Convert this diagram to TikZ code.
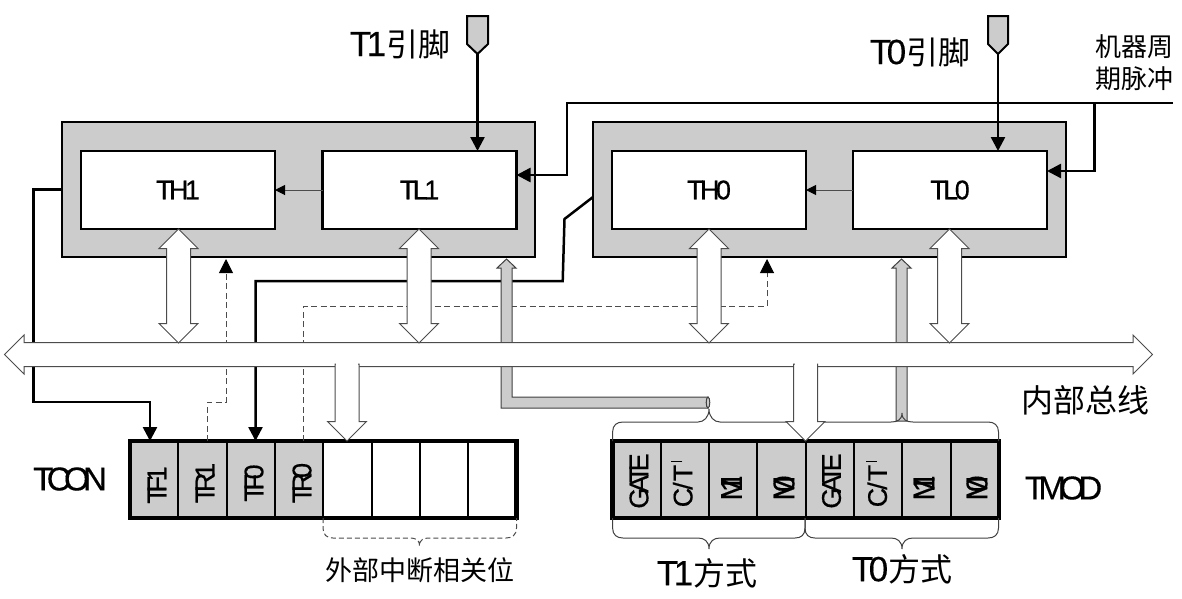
\documentclass[tikz,border=0pt]{standalone}
\usepackage{fontspec}
\setmainfont[FakeBold=0.4]{Liberation Sans}
\newfontfamily\cjk{Noto Sans CJK SC}
\newfontfamily\tight[LetterSpace=-20,FakeBold=0.4]{Liberation Sans}
\newfontfamily\snug[LetterSpace=-13,FakeBold=0.4]{Liberation Sans}
\newfontfamily\tighter[LetterSpace=-55,FakeBold=0.4]{Liberation Sans}
\usetikzlibrary{arrows.meta,shapes.arrows}
\definecolor{mygray}{RGB}{204, 204, 204}
\newcommand{\sz}[1]{\fontsize{#1}{#1}\selectfont}
\newcommand{\barT}{C\kern-2pt/\kern1pt T\kern3pt\rule[10pt]{1pt}{11pt}}
\tikzset{
  every picture/.style={line width=1pt},
  holder/.style={draw,fill=mygray,line width=2.4pt,inner sep=0pt,outer sep=0pt,minimum width=473,minimum height=135},
  counter/.style={draw,fill=white,line width=2.4pt,inner sep=0pt,outer sep=0pt,minimum width=194,minimum height=78,font=\snug\sz{27}},
  bitcell/.style={draw,line width=2pt,inner sep=0pt,outer sep=0pt,minimum width=48.3,minimum height=77},
  regframe/.style={draw,line width=4.5pt},
  bitlabel/.style={rotate=90,inner sep=0pt,font=\tight\sz{27}},
  wire/.style={draw,line width=2.5pt},
  hollow/.style={draw=black!70,fill=white,line width=1pt},
  busway/.style={hollow,double arrow,double arrow head extend=7.5pt,inner xsep=0pt,inner ysep=11.5pt,outer sep=0pt,minimum width=38},
  dropway/.style={hollow,single arrow,single arrow head extend=7.5pt,inner xsep=0pt,inner ysep=11.5pt,outer sep=0pt,minimum width=38,rotate=-90,anchor=tip},
  pipe/.style={draw=black!75,fill=mygray,line width=1pt},
  dashwire/.style={draw=black!70,line width=1pt,dash pattern=on 6pt off 3.5pt},
  curly/.style={draw=black!75,line width=1pt},
  bigtip/.tip={Triangle[length=14pt,width=14pt]},
  smalltip/.tip={Triangle[length=10pt,width=10pt]},
}

\begin{document}
\begin{tikzpicture}[x=1pt,y=1pt,yscale=-1]
\useasboundingbox (0,0) rectangle (1182,598);

%Holders and counters
\node[holder] (box1) at (298.5,189.5) {};
\node[holder] (box0) at (829.5,189.5) {};
\node[counter] (th1) at (178,190) {TH1};
\node[counter] (tl1) at (419.5,190) {TL1};
\node[counter] (th0) at (709,190) {TH0};
\node[counter] (tl0) at (950,190) {TL0};

%Pins
\draw[fill=mygray,line width=2pt] (467,16) -- (488,16) -- (488,44) -- (477.5,54) -- (467,44) -- cycle;
\coordinate (pin1) at (477.5,54);
\draw[fill=mygray,line width=2pt] (988,16) -- (1008,16) -- (1008,44) -- (998,54) -- (988,44) -- cycle;
\coordinate (pin0) at (998,54);
\draw[wire,-{bigtip}] (pin1) -- (pin1 |- tl1.north);
\draw[wire,-{bigtip}] (pin0) -- (pin0 |- tl0.north);

%Machine cycle line
\coordinate (clkend) at (1173,103);
\draw[wire,-{bigtip}] (clkend) -- (567,103) -- (567,175) -- (567,175 -| tl1.east);
\draw[wire,-{bigtip}] (1094.5,103) -- (1094.5,171) -- (1094.5,171 -| tl0.east);

%Carry arrows
\draw[black!70,-{smalltip[black]}] (tl1.west) -- (th1.east);
\draw[black!70,-{smalltip[black]}] (tl0.west) -- (th0.east);

%Registers
\foreach \i in {1,...,4}
  \node[bitcell,fill=mygray] (tcon\i) at ({130+48.3*(\i-0.5)},479.5) {};
\foreach \i in {5,...,8}
  \node[bitcell,fill=white] (tcon\i) at ({130+48.3*(\i-0.5)},479.5) {};
\foreach \i in {1,...,8}
  \node[bitcell,fill=mygray] (tmod\i) at ({612.5+48.3*(\i-0.5)},479.5) {};
\draw[regframe] (tcon1.north west) rectangle (tcon8.south east);
\draw[regframe] (tmod1.north west) rectangle (tmod8.south east);

%Flag wires
\draw[wire,-{bigtip}] (box1.west) -- (33.5,189.5) -- (33.5,402) -- (150,402) -- (150,402 |- tcon1.north);
\draw[wire,-{bigtip}] (box0.west |- 0,197) -- (564.5,219) -- (562.7,281) -- (255.5,281) -- (255.5,281 |- tcon3.north);
\draw[dashwire,-{bigtip[black]}] (207,441) -- (207,402) -- (226,402) -- (226,259);
\draw[dashwire,-{bigtip[black]}] (303.7,441) -- (303.7,306) -- (767,306) -- (767,259);

%Gray pipes
\draw[pipe] (506.5,259) -- (516,268) -- (512,268) -- (512,397) -- (708,397) -- (708,408) -- (501,408) -- (501,268) -- (497,268) -- cycle;
\draw[pipe] (708,402.5) ellipse (1.8 and 5.5);
\draw[pipe] (901.5,259) -- (911,268) -- (907,268) -- (907,421) -- (896,421) -- (896,268) -- (892,268) -- cycle;

%Braces
\draw[curly] (612.6,441) -- (612.6,432) .. controls (612.6,425) and (617,422) .. (623,422) -- (698,422) .. controls (704,422) and (709,417) .. (709,409) .. controls (709,417) and (714,422) .. (720,422) -- (795,422) .. controls (801,422) and (805,425) .. (805,432) -- (805,441);
\draw[curly] (805,441) -- (805,432) .. controls (805,425) and (809,422) .. (815,422) -- (891,422) .. controls (897,422) and (902,420) .. (902,413) .. controls (902,420) and (907,422) .. (913,422) -- (988,422) .. controls (994,422) and (998.5,425) .. (998.5,432) -- (998.5,441);
\draw[curly] (612.6,518) -- (612.6,528) .. controls (612.6,535) and (617,538) .. (623,538) -- (698,538) .. controls (704,538) and (709,541) .. (709,549) .. controls (709,541) and (714,538) .. (720,538) -- (795,538) .. controls (801,538) and (805,535) .. (805,528) -- (805,518);
\draw[curly] (805,518) -- (805,528) .. controls (805,535) and (809,538) .. (815,538) -- (891,538) .. controls (897,538) and (902,541) .. (902,549) .. controls (902,541) and (907,538) .. (913,538) -- (988,538) .. controls (994,538) and (998.5,535) .. (998.5,528) -- (998.5,518);
\draw[dashwire,dash pattern=on 5pt off 3pt] (323,518) -- (323,528) .. controls (323,535) and (327,538) .. (333,538) -- (409,538) .. controls (415,538) and (419.5,539) .. (419.5,546) .. controls (419.5,539) and (424,538) .. (430,538) -- (506,538) .. controls (512,538) and (516.5,535) .. (516.5,528) -- (516.5,518);

%Bus and hollow arrows
\node[busway,minimum height=1148] (bus) at (578.5,354.5) {};
\node[busway,rotate=90,minimum height=114] (ath1) at (178.5,286) {};
\node[busway,rotate=90,minimum height=114] (atl1) at (419,286) {};
\node[busway,rotate=90,minimum height=114] (ath0) at (709,286) {};
\node[busway,rotate=90,minimum height=114] (atl0) at (949.5,286) {};
\node[dropway,minimum height=77] (atcon) at (347,441) {};
\node[dropway,minimum height=77] (atmod) at (805.5,441) {};
\fill[white] (336,361) rectangle (358,369);
\fill[white] (794.5,361) rectangle (816.5,369);

%Labels
\node[inner sep=0pt] (lab1) at (400,44) {\sz{35}\snug T1{\cjk\sz{32}引脚}};
\node[inner sep=0pt] (lab0) at (920,52) {\sz{35}\snug T0{\cjk\sz{32}引脚}};
\node[inner sep=0pt,align=left,font=\cjk\sz{26}] (labclk) at (1134,63) {机器周\\[6pt]期脉冲};
\node[inner sep=0pt,font=\cjk\sz{32}] (labbus) at (1085,400) {内部总线};
\node[inner sep=0pt,font=\tight\sz{33}] (labtcon) at (70,479) {TCON};
\node[inner sep=0pt,font=\tight\sz{33}] (labtmod) at (1063.5,488) {TMOD};
\node[inner sep=0pt,font=\cjk\sz{27}] (labext) at (419.5,570) {外部中断相关位};
\node[inner sep=0pt] (labt1) at (707,573) {\sz{35}\snug T1{\cjk\sz{32}方式}};
\node[inner sep=0pt] (labt0) at (902,569) {\sz{35}\snug T0{\cjk\sz{32}方式}};

%Bit names
\node[bitlabel] (bf1) at (157,485) {TF1};
\node[bitlabel] (br1) at (205,483) {TR1};
\node[bitlabel] (bf0) at (254,483) {TF0};
\node[bitlabel] (br0) at (302,483) {TR0};
\node[bitlabel] (bg1) at (639,481) {GATE};
\node[bitlabel,font=\normalfont\sz{27}] (bc1) at (682,484) {\barT};
\node[bitlabel,font=\tighter\sz{30}] (bm11) at (731.5,488) {M1};
\node[bitlabel,font=\tighter\sz{30}] (bm01) at (784,488) {M0};
\node[bitlabel] (bg0) at (831.5,481) {GATE};
\node[bitlabel,font=\normalfont\sz{27}] (bc0) at (876.5,484) {\barT};
\node[bitlabel,font=\tighter\sz{30}] (bm10) at (924,488) {M1};
\node[bitlabel,font=\tighter\sz{30}] (bm00) at (977,488) {M0};

\end{tikzpicture}
\end{document}
